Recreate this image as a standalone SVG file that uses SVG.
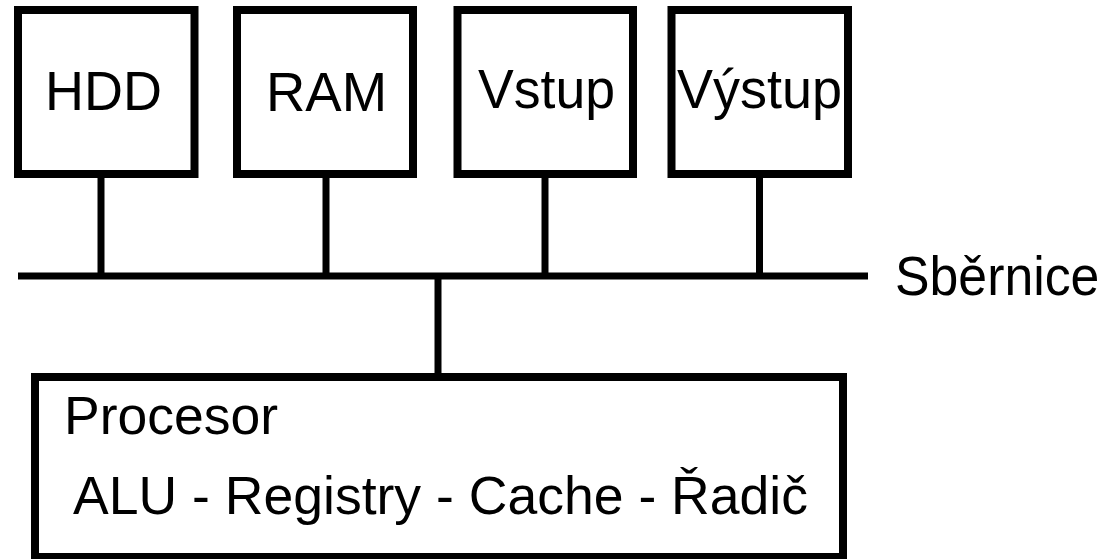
<svg xmlns="http://www.w3.org/2000/svg" width="1109" height="559" viewBox="0 0 1109 559">
  <style>
    .box { fill: #ffffff; stroke: #000000; stroke-width: 8; }
    .wire { stroke: #000000; stroke-width: 7; fill: none; }
    .lbl { font-family: "Liberation Sans", Arial, sans-serif; font-size: 56px; fill: #000000; }
    .lbl2 { font-family: "Liberation Sans", Arial, sans-serif; font-size: 54px; fill: #000000; }
  </style>
  <rect x="0" y="0" width="1109" height="559" fill="#ffffff"/>
  <g id="connectors">
    <line class="wire" x1="18" y1="276" x2="868" y2="276"/>
    <line class="wire" x1="101" y1="178" x2="101" y2="276"/>
    <line class="wire" x1="326" y1="178" x2="326" y2="276"/>
    <line class="wire" x1="545" y1="178" x2="545" y2="276"/>
    <line class="wire" x1="759.5" y1="178" x2="759.5" y2="276"/>
    <line class="wire" x1="438" y1="276" x2="438" y2="373"/>
  </g>
  <g id="hdd">
    <rect class="box" x="18" y="10" width="176.5" height="164"/>
    <text class="lbl" x="45" y="110" textLength="117" lengthAdjust="spacingAndGlyphs">HDD</text>
  </g>
  <g id="ram">
    <rect class="box" x="237" y="10" width="176" height="164"/>
    <text class="lbl" x="266" y="111" textLength="121" lengthAdjust="spacingAndGlyphs">RAM</text>
  </g>
  <g id="vstup">
    <rect class="box" x="457.5" y="10" width="175.5" height="164"/>
    <text class="lbl" x="478" y="108" textLength="137" lengthAdjust="spacingAndGlyphs">Vstup</text>
  </g>
  <g id="vystup">
    <rect class="box" x="671.5" y="10" width="176.5" height="164"/>
    <text class="lbl" x="677" y="108" textLength="165" lengthAdjust="spacingAndGlyphs">Výstup</text>
  </g>
  <g id="sbernice">
    <text class="lbl" x="0" y="0" transform="translate(895,295) scale(0.925,1)">Sběrnice</text>
  </g>
  <g id="procesor">
    <rect class="box" x="35" y="377" width="808" height="180"/>
    <text class="lbl2" x="64" y="434" textLength="214" lengthAdjust="spacingAndGlyphs">Procesor</text>
    <text class="lbl2" x="73" y="514" textLength="735" lengthAdjust="spacingAndGlyphs">ALU - Registry - Cache - Řadič</text>
  </g>
</svg>
